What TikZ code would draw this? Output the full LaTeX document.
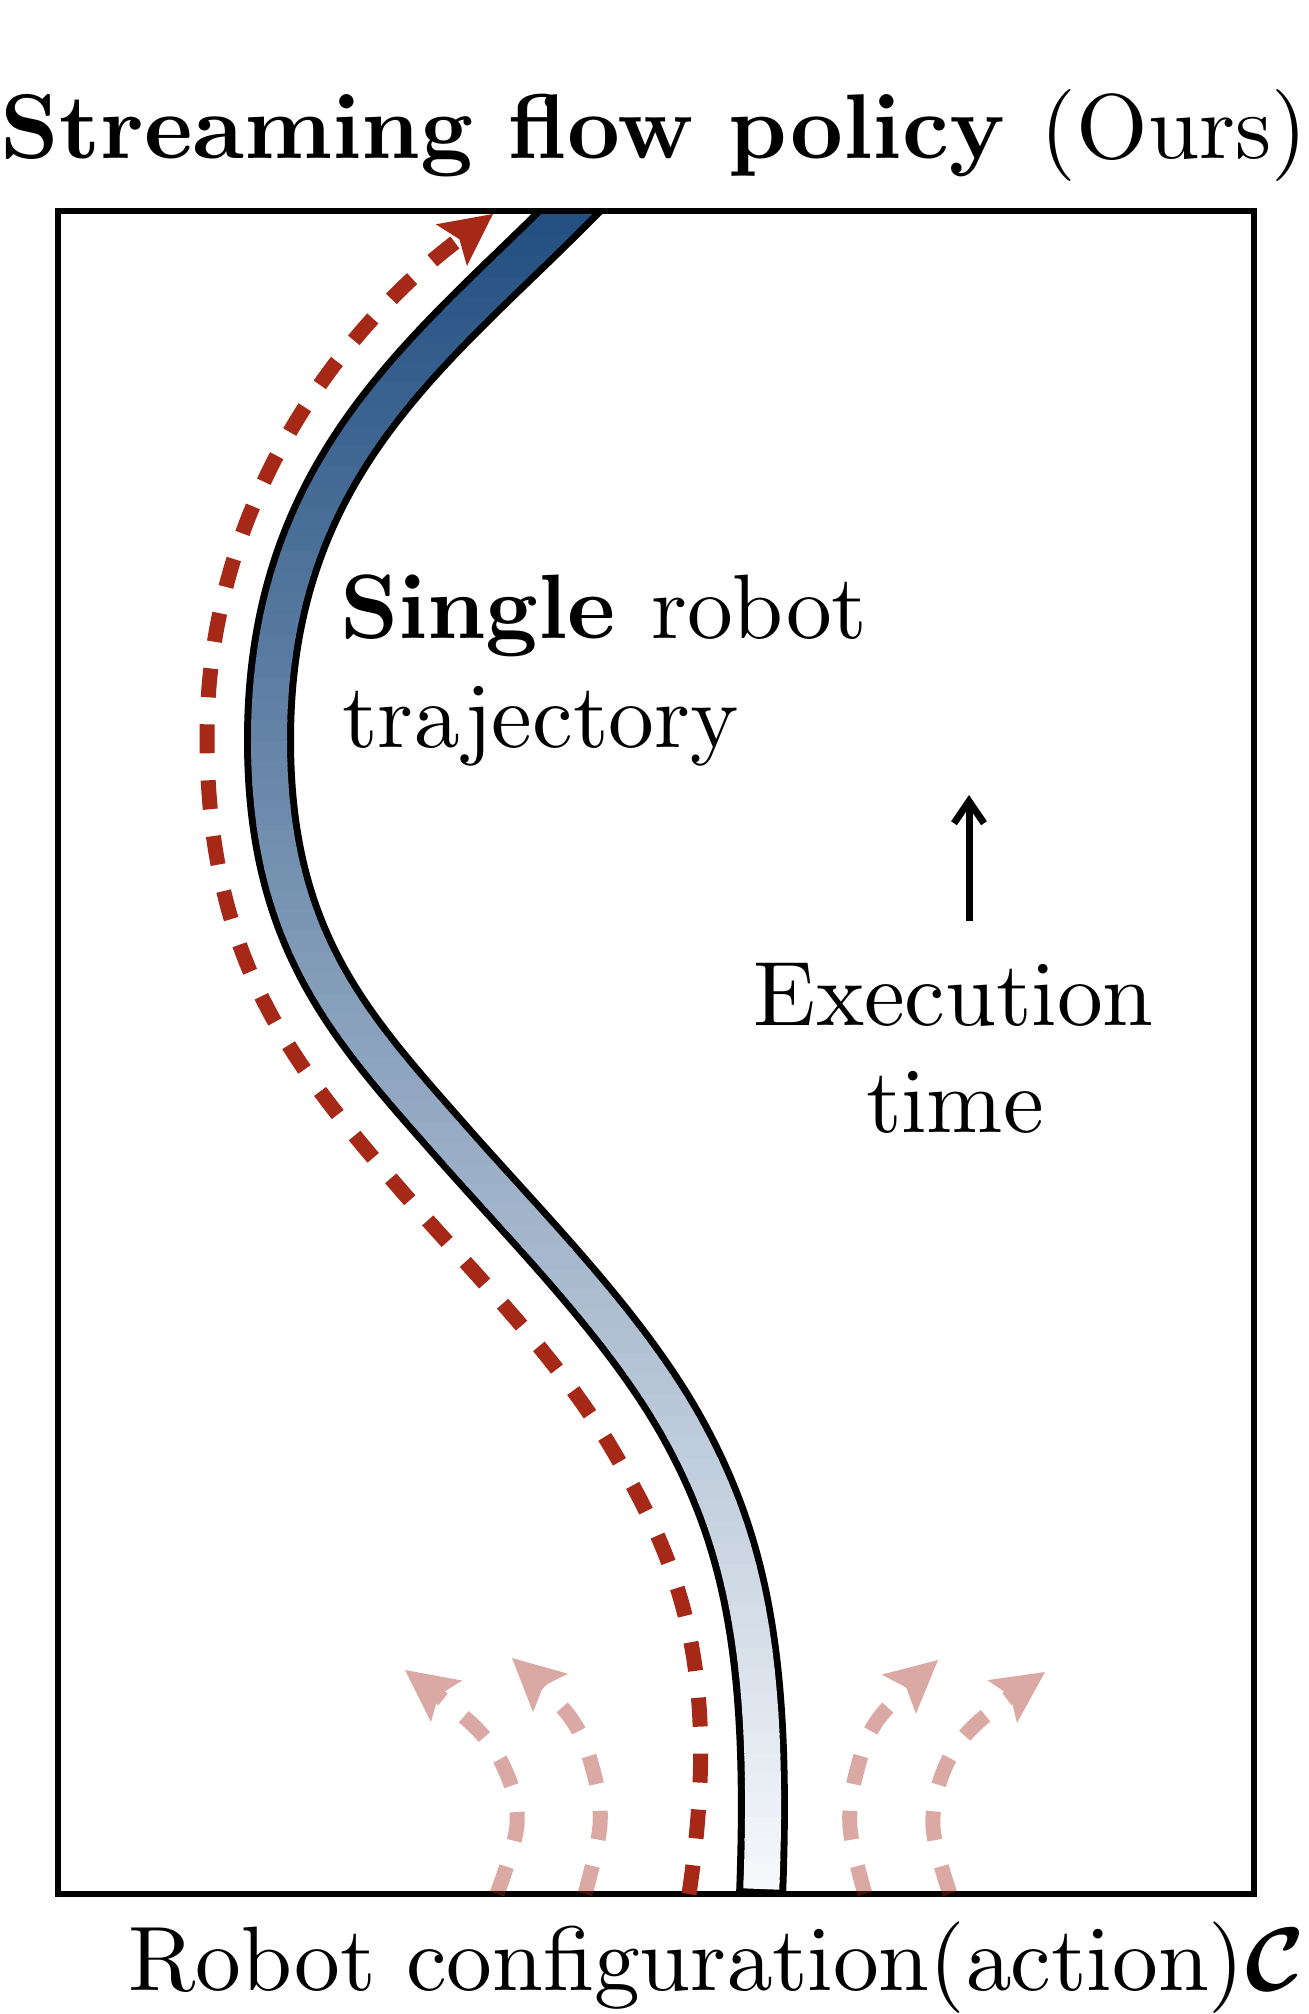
\documentclass[tikz,border=0pt]{standalone}
\usetikzlibrary{arrows.meta}
\definecolor{redc}{RGB}{166,41,24}
\definecolor{bandtop}{RGB}{33,78,128}
\definecolor{bandbot}{RGB}{247,249,252}
\font\rmA=cmr10 at 91.5pt
\font\bfA=cmbx10 at 91.5pt
\font\rmT=cmr10 at 92pt
\font\bfT=cmbx10 at 92pt
\font\calA=cmbsy10 at 90pt
\tikzset{
  frameline/.style={line width=6pt, draw=black},
  redline/.style={draw=redc, line width=15pt, dash pattern=on 29pt off 27pt,
    -{Stealth[length=52pt,width=52pt,inset=10pt,line width=0pt 0 0]}},
  pinkline/.style={redline},
  timearrow/.style={line width=7pt, -{Straight Barb[length=22pt,width=30pt]}},
  lbl/.style={inner sep=0pt, outer sep=0pt}
}
\def\bandpath{(761,1896) .. controls (770,1666) and (747,1547) .. (685,1433) .. controls (628,1328) and (529,1230) .. (450,1140) .. controls (351,1027.5) and (269,940) .. (269,740) .. controls (269,470) and (426,355) .. (567,214) -- (602,179)}
\begin{document}
\begin{tikzpicture}[x=1pt,y=-1pt]
\useasboundingbox (0,0) rectangle (1309,2014);
% frame
\draw[frameline] (58,211) rectangle (1254,1894);
% trajectory band with vertical gradient
\begin{scope}
  \clip (0,214) rectangle (1309,2014);
  \draw[line width=50pt, black] \bandpath;
  \foreach \i in {0,...,79} {
    \pgfmathsetmacro\ya{214+\i*21.1}
    \pgfmathsetmacro\yb{\ya+22.5}
    \pgfmathsetmacro\pc{min(100,max(0,(\ya+10.5-211)/(1894-211)*100))}
    \begin{scope}
      \clip (0,\ya) rectangle (1309,\yb);
      \draw[line width=36pt, color=bandbot!\pc!bandtop, shorten <=7pt] \bandpath;
    \end{scope}
  }
\end{scope}
% main red dashed arrow
\draw[redline] (689,1894) .. controls (723,1666) and (678,1561) .. (612,1449)
  .. controls (556,1354) and (472,1272) .. (400,1189)
  .. controls (288.5,1060.7) and (207,956) .. (207,736)
  .. controls (207,496) and (349,321.6) .. (493,214);
% faint alternative arrows
\begin{scope}[transparency group, opacity=0.4]
\draw[pinkline] plot[smooth,tension=0.6] coordinates {(497,1894) (517,1825) (506,1772) (475,1727) (405,1670)};
\end{scope}
\begin{scope}[transparency group, opacity=0.4]
\draw[pinkline] plot[smooth,tension=0.6] coordinates {(585,1894) (600,1825) (593,1770) (570,1717) (512,1658)};
\end{scope}
\begin{scope}[transparency group, opacity=0.4]
\draw[pinkline] plot[smooth,tension=0.6] coordinates {(865,1894) (850,1827) (857,1770) (879,1718) (938,1660)};
\end{scope}
\begin{scope}[transparency group, opacity=0.4]
\draw[pinkline] plot[smooth,tension=0.6] coordinates {(950,1894) (933,1827) (944,1770) (975,1725) (1045,1672)};
\end{scope}
% texts
\node[lbl, anchor=base west] (title) at (1,158) {\bfT Streaming flow policy \rmT(Ours)};
\node[lbl, anchor=base west] (single) at (340,638) {\bfA Single \rmA robot};
\node[lbl, anchor=base west] (traj) at (342,747) {\rmA trajectory};
\node[lbl, anchor=base] (exec) at (954,1025) {\rmA Execution};
\node[lbl, anchor=base] (time) at (955,1132) {\rmA time};
\node[lbl, anchor=base west] (config) at (128,1990) {\rmA Robot configuration(action)\calA C};
% execution time arrow
\coordinate (tbot) at (969,921);
\coordinate (ttop) at (969,795);
\draw[timearrow] (tbot) -- (ttop);
\end{tikzpicture}
\end{document}
